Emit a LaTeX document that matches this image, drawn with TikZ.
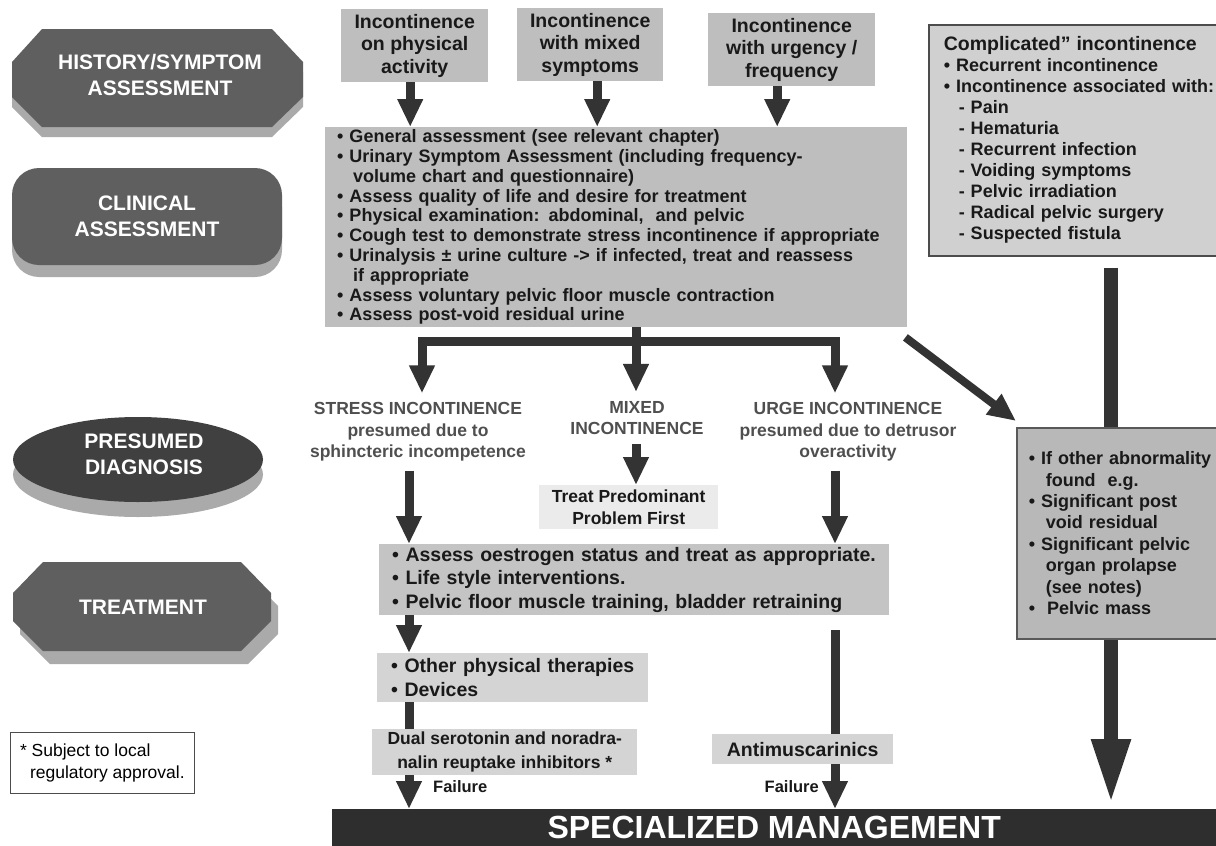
\documentclass[tikz,border=0pt]{standalone}
\usepackage{fontspec}
\setmainfont{Liberation Sans}
\usetikzlibrary{arrows.meta,positioning}

\definecolor{bandface}{HTML}{5F5F5F}
\definecolor{bandshade}{HTML}{AAAAAA}
\definecolor{ovalface}{HTML}{404040}
\definecolor{boxfill}{HTML}{BEBEBE}
\definecolor{carefill}{HTML}{C4C4C4}
\definecolor{lightfill}{HTML}{D4D4D4}
\definecolor{palefill}{HTML}{EBEBEB}
\definecolor{complfill}{HTML}{D0D0D0}
\definecolor{abnfill}{HTML}{B8B8B8}
\definecolor{ink}{HTML}{333333}
\definecolor{barfill}{HTML}{2E2E2E}
\definecolor{diagtext}{HTML}{4F4F4F}

\begin{document}
\begin{tikzpicture}[x=1pt,y=-1pt,
    band/.style={text=white,inner sep=0pt,align=center,font=\bfseries\fontsize{21}{25.5}\selectfont},
    inbox/.style={anchor=north west,inner sep=0pt,align=center,text=black!90,font=\bfseries\fontsize{19.5}{22.5}\selectfont},
    listbox/.style={anchor=north west,inner ysep=0pt,align=left,text=black!90},
    diag/.style={text=diagtext,inner xsep=0pt,inner ysep=9pt,align=center,font=\bfseries\fontsize{17.5}{21.5}\selectfont},
    fat/.style={draw=ink,line width=9pt,line join=miter},
    fatarrow/.style={fat,-{Triangle[length=28pt,width=24pt]}},
    heavy/.style={draw=ink,line width=14pt},
    fail/.style={inner sep=0pt,text=black!90,font=\bfseries\fontsize{16.5}{20}\selectfont}]
    \useasboundingbox (0,0) rectangle (1216,846);

    % stage labels down the left side
    \fill[bandshade] (42,39) -- (272,39) -- (303,72) -- (303,107) -- (272,137) -- (42,137) -- (12,107) -- (12,72) -- cycle;
    \fill[bandface] (42,29) -- (272,29) -- (303,62) -- (303,97) -- (272,127) -- (42,127) -- (12,97) -- (12,62) -- cycle;
    \node[band] (history) at (160,75) {HISTORY/SYMPTOM\\ASSESSMENT};

    \fill[bandshade,rounded corners=27pt] (12,180) rectangle (282,277);
    \fill[bandface,rounded corners=27pt] (12,168) rectangle (282,265);
    \node[band] (clinical) at (147,216.5) {CLINICAL\\ASSESSMENT};

    \fill[bandshade] (138,474.5) ellipse [x radius=125pt,y radius=42.5pt];
    \fill[ovalface] (138,459.5) ellipse [x radius=125pt,y radius=42.5pt];
    \node[band] (presumed) at (144,454.5) {PRESUMED\\DIAGNOSIS};

    \fill[bandshade] (50,575) -- (248,575) -- (278,606) -- (278,634) -- (248,664) -- (50,664) -- (20,634) -- (20,606) -- cycle;
    \fill[bandface] (43,562) -- (241,562) -- (271,593) -- (271,621) -- (241,651) -- (43,651) -- (13,621) -- (13,593) -- cycle;
    \node[band] (treatment) at (143,607) {TREATMENT};

    \node[anchor=north west,draw=black!70,line width=0.8pt,minimum width=184pt,minimum height=61pt,
        inner sep=0pt,align=left,font=\fontsize{17.5}{22}\selectfont] (footnote) at (10,732)
        {* Subject to local\\\hspace*{10pt}regulatory approval.};

    % presenting complaints
    \node[inbox,fill=boxfill,minimum width=147pt,minimum height=73pt] (physical) at (341,9) {Incontinence\\on physical\\activity};
    \node[inbox,fill=boxfill,minimum width=146pt,minimum height=73pt] (mixedsym) at (517,8) {Incontinence\\with mixed\\symptoms};
    \node[inbox,fill=boxfill,minimum width=167pt,minimum height=73pt] (urgency) at (708,13) {Incontinence\\with urgency /\\frequency};

    \node[listbox,fill=boxfill,minimum width=582pt,minimum height=200pt,text width=558pt,inner xsep=12pt,
        font=\bfseries\fontsize{18}{19.8}\selectfont] (clinic) at (325,127)
        {• General assessment (see relevant chapter)\\
         • Urinary Symptom Assessment (including frequency-\\
         \hspace*{16pt}volume chart and questionnaire)\\
         • Assess quality of life and desire for treatment\\
         • Physical examination: abdominal,~ and pelvic\\
         • Cough test to demonstrate stress incontinence if appropriate\\
         • Urinalysis ± urine culture -> if infected, treat and reassess\\
         \hspace*{16pt}if appropriate\\
         • Assess voluntary pelvic floor muscle contraction\\
         • Assess post-void residual urine};

    \node[listbox,fill=complfill,draw=black!70,line width=1.5pt,minimum height=231pt,text width=270pt,inner xsep=15pt,
        font=\bfseries\fontsize{18}{21}\selectfont] (complicated) at (928,24)
        {\mbox{\fontsize{19.5}{21}\selectfont Complicated” incontinence}\\
         • Recurrent incontinence\\
         \mbox{• Incontinence associated with:}\\
         \hspace*{15pt}- Pain\\
         \hspace*{15pt}- Hematuria\\
         \hspace*{15pt}- Recurrent infection\\
         \hspace*{15pt}- Voiding symptoms\\
         \hspace*{15pt}- Pelvic irradiation\\
         \hspace*{15pt}- Radical pelvic surgery\\
         \hspace*{15pt}- Suspected fistula};

    % presumed diagnoses
    \node[diag] (stress) at (418,432) {STRESS INCONTINENCE\\presumed due to\\sphincteric incompetence};
    \node[diag] (mixed) at (637,418) {MIXED\\INCONTINENCE};
    \node[diag] (urge) at (848,432) {URGE INCONTINENCE\\presumed due to detrusor\\overactivity};

    \node[inbox,fill=palefill,minimum width=179pt,minimum height=44pt,font=\bfseries\fontsize{17.5}{22}\selectfont] (predom) at (539,485)
        {Treat Predominant\\Problem First};

    \node[listbox,fill=abnfill,draw=black!65,line width=1.5pt,minimum height=211pt,text width=188pt,inner xsep=12pt,
        font=\bfseries\fontsize{18}{21.4}\selectfont] (abnormal) at (1016,427)
        {\mbox{• If other abnormality}\\
         \hspace*{17pt}found~ e.g.\\
         • Significant post\\
         \hspace*{17pt}void residual\\
         • Significant pelvic\\
         \hspace*{17pt}organ prolapse\\
         \hspace*{17pt}(see notes)\\
         •~ Pelvic mass};

    % treatment steps
    \node[listbox,fill=carefill,minimum width=510pt,minimum height=71pt,text width=484pt,inner xsep=13pt,
        font=\bfseries\fontsize{19.5}{23.5}\selectfont] (care) at (379,544)
        {\mbox{• Assess oestrogen status and treat as appropriate.}\\
         • Life style interventions.\\
         \mbox{• Pelvic floor muscle training, bladder retraining}};

    \node[listbox,fill=lightfill,minimum width=271pt,minimum height=49pt,text width=243pt,inner xsep=14pt,
        font=\bfseries\fontsize{19.5}{24}\selectfont] (other) at (377,653)
        {\mbox{• Other physical therapies}\\• Devices};

    \node[inbox,fill=lightfill,minimum width=265pt,minimum height=46pt,font=\bfseries\fontsize{17.5}{23.5}\selectfont] (dual) at (372,729)
        {Dual serotonin and noradra-\\nalin reuptake inhibitors *};
    \node[inbox,fill=lightfill,minimum width=181pt,minimum height=30pt] (anti) at (712,734) {Antimuscarinics};

    \node[anchor=north west,fill=barfill,minimum width=884pt,minimum height=37pt,inner sep=0pt,text=white,
        font=\bfseries\fontsize{32}{36}\selectfont] (mgmt) at (332,809) {SPECIALIZED MANAGEMENT};

    % connectors
    \coordinate (split) at (636,341);
    \coordinate (lane) at (409,0);
    \coordinate (rlane) at (835,0);
    \coordinate (flank) at (1111,0);

    \draw[fatarrow] ([xshift=-4.5pt]physical.south) -- ([xshift=-4.5pt]physical.south |- clinic.north);
    \draw[fatarrow] ([xshift=7pt]mixedsym.south) -- ([xshift=7pt]mixedsym.south |- clinic.north);
    \draw[fatarrow] ([xshift=-14.5pt]urgency.south) -- ([xshift=-14.5pt]urgency.south |- clinic.north);

    \draw[fat] (clinic.south -| split) -- (split);
    \draw[fatarrow] (split) -| ([xshift=4pt]stress.north);
    \draw[fatarrow] (split) -- (split |- mixed.north);
    \draw[fatarrow] (split) -| (urge.north -| rlane);

    \draw[fatarrow] (mixed.south -| split) -- (predom.north -| split);
    \draw[fatarrow] (stress.south -| lane) -- (care.north -| lane);
    \draw[fatarrow] (urge.south -| rlane) -- (care.north -| rlane);

    \draw[fatarrow] (care.south -| lane) -- (other.north -| lane);
    \draw[fat] (other.south -| lane) -- (dual.north -| lane);
    \draw[fatarrow] (dual.south -| lane) -- (mgmt.north -| lane);
    \node[fail,anchor=west] (failleft) at (433,787) {Failure};

    \draw[fat,shorten <=15pt] (care.south -| rlane) -- (anti.north -| rlane);
    \draw[fatarrow] (anti.south -| rlane) -- (mgmt.north -| rlane);
    \node[fail,anchor=east] (failright) at (819,787) {Failure};

    \draw[fatarrow,line width=8pt] ([xshift=-2pt,yshift=-10pt]clinic.south east) -- ([yshift=6pt]abnormal.north west);

    \draw[heavy,shorten <=11pt] (complicated.south -| flank) -- (abnormal.north -| flank);
    \draw[heavy,-{Triangle[length=65pt,width=36pt]},shorten >=5pt] (abnormal.south -| flank) -- (mgmt.north -| flank);
\end{tikzpicture}
\end{document}
